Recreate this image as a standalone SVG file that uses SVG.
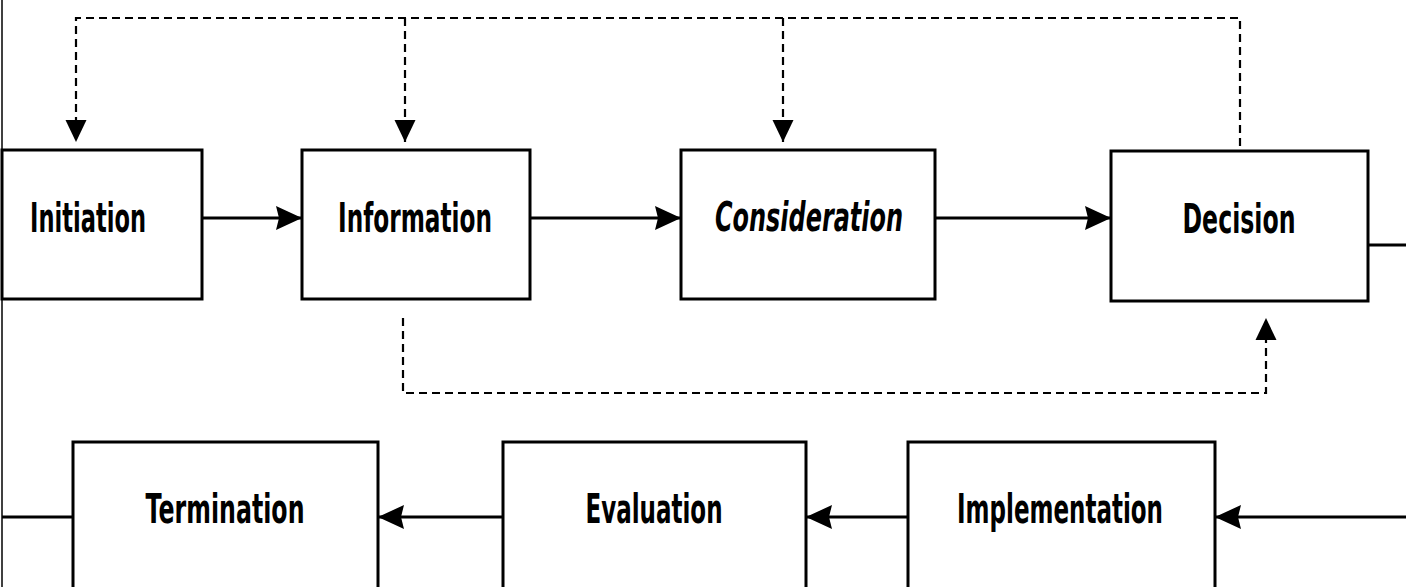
<svg xmlns="http://www.w3.org/2000/svg" width="1406" height="587" viewBox="0 0 1406 587">
  <style>
    .box { fill: #ffffff; stroke: #000000; stroke-width: 3; }
    .label { font-family: "DejaVu Sans", "Liberation Sans", sans-serif; font-weight: bold; font-size: 40px; fill: #000000; text-anchor: middle; }
    .italic { font-style: italic; }
    .solid { fill: none; stroke: #000000; stroke-width: 3; }
    .dashed { fill: none; stroke: #000000; stroke-width: 2.2; stroke-dasharray: 8 5; }
    .edge { fill: none; stroke: #000000; stroke-width: 1.5; }
  </style>
  <defs>
    <marker id="head" markerUnits="userSpaceOnUse" markerWidth="28" markerHeight="26" refX="26" refY="13" orient="auto">
      <path d="M0,1 L26,13 L0,25 L3,13 Z" fill="#000000"/>
    </marker>
    <marker id="headDash" markerUnits="userSpaceOnUse" markerWidth="24" markerHeight="22" refX="22" refY="11" orient="auto">
      <path d="M0,0.5 L22,11 L0,21.5 Z" fill="#000000"/>
    </marker>
  </defs>

  <rect width="1406" height="587" fill="#ffffff"/>

  <g id="connectors">
    <!-- left border rule and exit from Termination -->
    <path class="edge" d="M2,0 V587"/>
    <path class="solid" d="M2,517 H73"/>
    <!-- top row flow -->
    <path class="solid" d="M202,218 H302" marker-end="url(#head)"/>
    <path class="solid" d="M530,218 H681" marker-end="url(#head)"/>
    <path class="solid" d="M935,218 H1111" marker-end="url(#head)"/>
    <path class="solid" d="M1368,245 H1406"/>
    <!-- bottom row flow (right to left) -->
    <path class="solid" d="M1406,517 H1215" marker-end="url(#head)"/>
    <path class="solid" d="M908,517 H806" marker-end="url(#head)"/>
    <path class="solid" d="M503,517 H378" marker-end="url(#head)"/>
    <!-- feedback from Decision -->
    <path class="dashed" d="M1240,146 V18 H76 V142" marker-end="url(#headDash)"/>
    <path class="dashed" d="M405,18 V142" marker-end="url(#headDash)"/>
    <path class="dashed" d="M783,18 V142" marker-end="url(#headDash)"/>
    <!-- bypass from Information to Decision -->
    <path class="dashed" d="M403,318 V393 H1266 V318" marker-end="url(#headDash)"/>
  </g>

  <g id="initiation">
    <rect class="box" x="2" y="150" width="200" height="149"/>
    <text class="label" x="88" y="232" textLength="116" lengthAdjust="spacingAndGlyphs">Initiation</text>
  </g>
  <g id="information">
    <rect class="box" x="302" y="150" width="228" height="149"/>
    <text class="label" x="415" y="232" textLength="154" lengthAdjust="spacingAndGlyphs">Information</text>
  </g>
  <g id="consideration">
    <rect class="box" x="681" y="150" width="254" height="149"/>
    <text class="label italic" x="809" y="231" textLength="188" lengthAdjust="spacingAndGlyphs">Consideration</text>
  </g>
  <g id="decision">
    <rect class="box" x="1111" y="151" width="257" height="150"/>
    <text class="label" x="1239" y="233" textLength="113" lengthAdjust="spacingAndGlyphs">Decision</text>
  </g>
  <g id="termination">
    <rect class="box" x="73" y="442" width="305" height="170"/>
    <text class="label" x="225" y="523" textLength="159" lengthAdjust="spacingAndGlyphs">Termination</text>
  </g>
  <g id="evaluation">
    <rect class="box" x="503" y="442" width="303" height="170"/>
    <text class="label" x="654" y="523" textLength="137" lengthAdjust="spacingAndGlyphs">Evaluation</text>
  </g>
  <g id="implementation">
    <rect class="box" x="908" y="442" width="307" height="170"/>
    <text class="label" x="1060" y="523" textLength="206" lengthAdjust="spacingAndGlyphs">Implementation</text>
  </g>
</svg>
